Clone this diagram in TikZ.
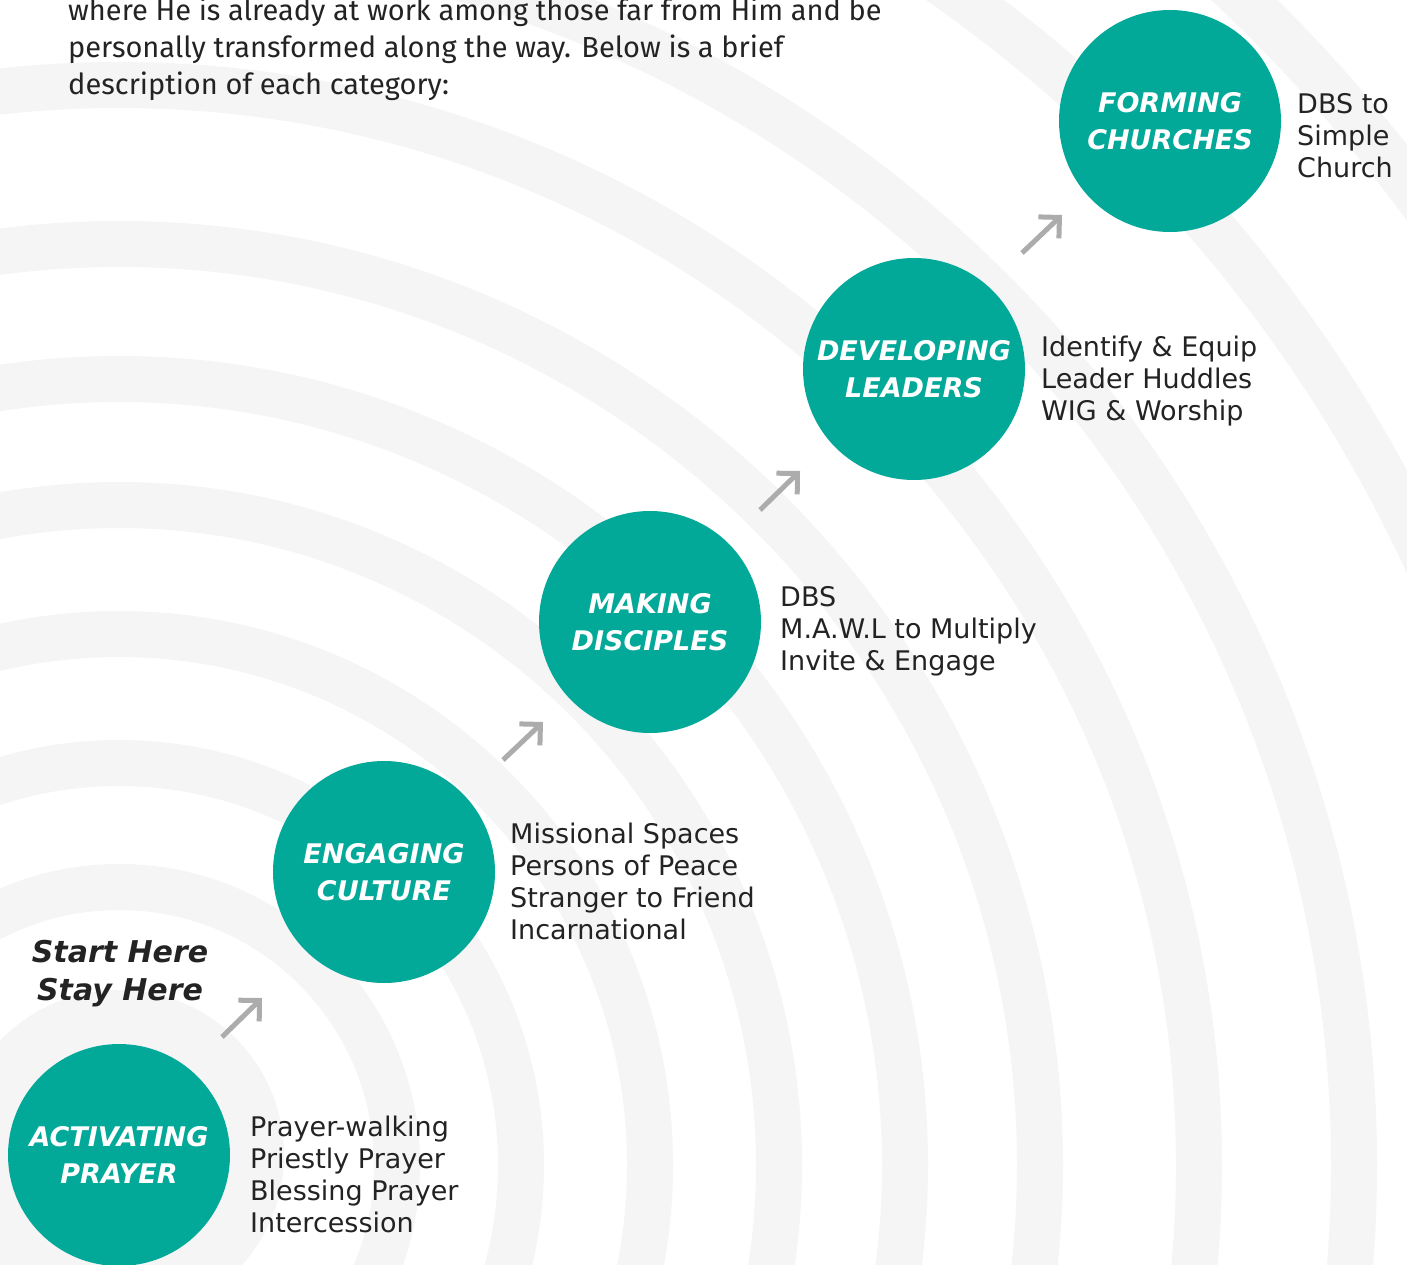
\documentclass[tikz,border=0pt]{standalone}
\usepackage{fontspec}
\setmainfont{Fira Sans}
\newfontfamily\labelfont{DejaVu Sans}
\usetikzlibrary{arrows.meta}

\definecolor{stageteal}{RGB}{2,168,152}
\definecolor{ringgray}{RGB}{245,245,245}
\definecolor{inkgray}{RGB}{35,35,35}
\definecolor{arrowgray}{RGB}{172,172,172}

\begin{document}
\begin{tikzpicture}[
    x=1pt, y=-1pt,
    stage/.style={
      circle, fill=stageteal, minimum size=222pt, inner sep=0pt,
      text=white, align=center,
      font=\labelfont\fontsize{27}{37}\selectfont\bfseries\itshape
    },
    steplist/.style={
      anchor=west, align=left, inner sep=0pt, text=inkgray,
      font=\labelfont\fontsize{27}{32}\selectfont
    },
    steparrow/.style={
      draw=arrowgray, line width=5pt,
      -{Straight Barb[angle=90:21pt]}
    }
]
\useasboundingbox (0,0) rectangle (1407,1265);
\fill[white] (0,0) rectangle (1407,1265);

% ripple rings
\begin{scope}
  \clip (0,0) rectangle (1407,1265);
  \draw[ringgray, line width=54pt] (119,1155) circle[radius=138pt];
  \foreach \r in {278,402,531,660,786,921,1080,1235,1440,1620} {
    \draw[ringgray, line width=46pt] (119,1165) circle[radius=\r pt];
  }
\end{scope}

\node[anchor=north west, align=left, inner sep=0pt, text=inkgray,
      font=\fontsize{29}{37}\selectfont] (intro) at (68,-2)
  {where He is already at work among those far from Him and be\\
   personally transformed along the way. Below is a brief\\
   description of each category:};

% stages
\node[stage] (prayer)    at (119,1155) {ACTIVATING\\PRAYER};
\node[stage] (culture)   at (384,872)  {ENGAGING\\CULTURE};
\node[stage] (disciples) at (650,622)  {MAKING\\DISCIPLES};
\node[stage] (leaders)   at (914,369)  {DEVELOPING\\LEADERS};
\node[stage] (churches)  at (1170,121) {FORMING\\CHURCHES};

\node[steplist] (prayerlist)    at (250,1174)
  {Prayer-walking\\Priestly Prayer\\Blessing Prayer\\Intercession};
\node[steplist] (culturelist)   at (510,881)
  {Missional Spaces\\Persons of Peace\\Stranger to Friend\\Incarnational};
\node[steplist] (discipleslist) at (780,631)
  {DBS\\M.A.W.L to Multiply\\Invite \& Engage};
\node[steplist] (leaderslist)   at (1041,381)
  {Identify \& Equip\\Leader Huddles\\WIG \& Worship};
\node[steplist] (churcheslist)  at (1297,136)
  {DBS to\\Simple\\Church};

\node[align=center, inner sep=0pt, text=inkgray,
      font=\labelfont\fontsize{30}{38}\selectfont\bfseries\itshape] (starthere) at (120,974)
  {Start Here\\Stay Here};

% arrows between stages
\coordinate (a1s) at (222,1037); \coordinate (a1e) at (262,998);
\coordinate (a2s) at (503,760);  \coordinate (a2e) at (543,722);
\coordinate (a3s) at (760,510);  \coordinate (a3e) at (800,471);
\coordinate (a4s) at (1022,253); \coordinate (a4e) at (1062,215);
\foreach \i in {1,...,4} {
  \draw[steparrow] (a\i s) -- (a\i e);
}
\end{tikzpicture}
\end{document}
